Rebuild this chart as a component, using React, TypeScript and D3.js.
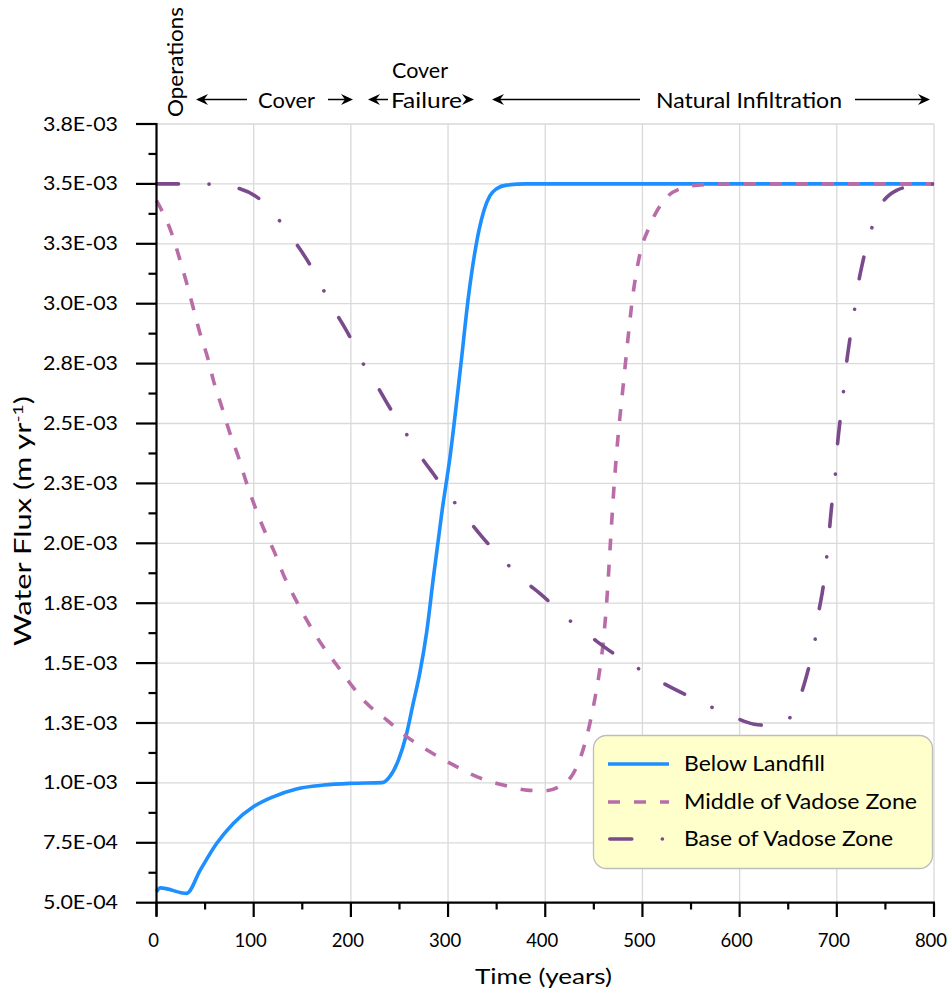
import React from "react";
import * as d3 from "d3";

// ---- data (time in years, water flux in m/yr) ----
const blueYears = [0, 4, 31, 45, 62, 79, 100, 120, 144, 172, 199, 232, 240, 249, 257, 264, 271, 278, 285, 294, 302, 313, 321, 327, 332, 337, 343, 350, 360, 380, 800];
const belowLandfill = [5.46e-4, 5.62e-4, 5.39e-4, 6.36e-4, 7.48e-4, 8.31e-4, 9.01e-4, 9.42e-4, 9.75e-4, 9.91e-4, 9.98e-4, 1.001e-3, 1.026e-3, 1.096e-3, 1.2e-3, 1.33e-3, 1.46e-3, 1.63e-3, 1.86e-3, 2.14e-3, 2.36e-3, 2.74e-3, 3.03e-3, 3.2e-3, 3.31e-3, 3.39e-3, 3.45e-3, 3.48e-3, 3.495e-3, 3.5e-3, 3.5e-3];

const middleYears = [0, 15.6, 24.2, 31.1, 37.9, 44.8, 53.3, 58.4, 67.1, 75.6, 84.2, 92.8, 101.3, 111.6, 121.9, 132.2, 140.8, 154.5, 171.6, 185.4, 199.1, 216.2, 236.8, 257.4, 281.4, 305.4, 329.4, 356.8, 380.8, 399.7, 416.9, 428.9, 439, 446, 451, 456, 460, 464, 467, 471, 475, 480, 485, 490, 497, 507, 520, 539, 563, 600, 800];
const middleVadose = [3.43e-3, 3.294e-3, 3.182e-3, 3.085e-3, 2.981e-3, 2.876e-3, 2.765e-3, 2.682e-3, 2.57e-3, 2.459e-3, 2.361e-3, 2.25e-3, 2.153e-3, 2.048e-3, 1.958e-3, 1.854e-3, 1.784e-3, 1.68e-3, 1.568e-3, 1.492e-3, 1.416e-3, 1.332e-3, 1.263e-3, 1.193e-3, 1.13e-3, 1.075e-3, 1.026e-3, 9.91e-4, 9.7e-4, 9.67e-4, 9.91e-4, 1.04e-3, 1.14e-3, 1.25e-3, 1.35e-3, 1.47e-3, 1.6e-3, 1.8e-3, 2.0e-3, 2.25e-3, 2.45e-3, 2.65e-3, 2.85e-3, 3.03e-3, 3.2e-3, 3.32e-3, 3.42e-3, 3.48e-3, 3.497e-3, 3.5e-3, 3.5e-3];

const baseYears = [0, 25, 55, 84, 106, 126, 144, 157, 171, 186, 198, 211, 227, 239, 255, 271, 285, 303, 321, 335, 357, 378, 395, 426, 450, 474, 495, 521, 547, 569, 596, 615, 630, 645, 655, 663, 671, 677, 681, 686, 689, 692, 695, 698, 700, 703, 706, 709, 713, 717, 721, 727, 733, 742, 762, 780, 800];
const baseVadose = [3.5e-3, 3.5e-3, 3.499e-3, 3.482e-3, 3.437e-3, 3.349e-3, 3.249e-3, 3.169e-3, 3.063e-3, 2.953e-3, 2.869e-3, 2.762e-3, 2.657e-3, 2.573e-3, 2.47e-3, 2.367e-3, 2.289e-3, 2.19e-3, 2.097e-3, 2.027e-3, 1.93e-3, 1.845e-3, 1.789e-3, 1.675e-3, 1.6e-3, 1.53e-3, 1.479e-3, 1.417e-3, 1.363e-3, 1.32e-3, 1.271e-3, 1.245e-3, 1.24e-3, 1.255e-3, 1.29e-3, 1.368e-3, 1.479e-3, 1.58e-3, 1.703e-3, 1.819e-3, 1.92e-3, 2.039e-3, 2.167e-3, 2.257e-3, 2.379e-3, 2.5e-3, 2.6e-3, 2.719e-3, 2.84e-3, 2.94e-3, 3.056e-3, 3.18e-3, 3.273e-3, 3.386e-3, 3.474e-3, 3.492e-3, 3.5e-3];

const yTickValues = [5.0e-4, 7.5e-4, 1.0e-3, 1.25e-3, 1.5e-3, 1.75e-3, 2.0e-3, 2.25e-3, 2.5e-3, 2.75e-3, 3.0e-3, 3.25e-3, 3.5e-3, 3.75e-3];
const yTickLabels = ["5.0E-04", "7.5E-04", "1.0E-03", "1.3E-03", "1.5E-03", "1.8E-03", "2.0E-03", "2.3E-03", "2.5E-03", "2.8E-03", "3.0E-03", "3.3E-03", "3.5E-03", "3.8E-03"];
const xTickValues = [0, 100, 200, 300, 400, 500, 600, 700, 800];
const xTickLabels = ["0", "100", "200", "300", "400", "500", "600", "700", "800"];

const seriesNames = ["Below Landfill", "Middle of Vadose Zone", "Base of Vadose Zone"];

const FONT = "Lato, 'Noto Sans', sans-serif";
const BLUE = "#1E8FFF";
const PINK = "#B86DA8";
const PURPLE = "#7A4A8C";

const x = d3.scaleLinear().domain([0, 800]).range([156.5, 934]);
const y = d3.scaleLinear().domain([5.0e-4, 3.75e-3]).range([902.7, 124]);

function pathFor(xs: number[], vs: number[]) {
  const pts = xs.map((t, i) => [t, vs[i]] as [number, number]);
  return d3
    .line<[number, number]>()
    .x((d) => x(d[0]))
    .y((d) => y(d[1]))
    .curve(d3.curveMonotoneX)(pts) as string;
}

function ArrowHead({ x0, y0, dir }: { x0: number; y0: number; dir: 1 | -1 }) {
  const d = `M${x0},${y0} L${x0 - dir * 12},${y0 - 5.5} L${x0 - dir * 8},${y0} L${x0 - dir * 12},${y0 + 5.5} Z`;
  return <path d={d} fill="#000" />;
}

function Arrow({ from, to, yy }: { from: number; to: number; yy: number }) {
  const dir: 1 | -1 = to > from ? 1 : -1;
  return (
    <g>
      <line x1={from} x2={to - dir * 6} y1={yy} y2={yy} stroke="#000" strokeWidth={1.5} />
      <ArrowHead x0={to} y0={yy} dir={dir} />
    </g>
  );
}

function Label({ x0, y0, w, size, children, anchor = "start" }: any) {
  return (
    <text x={x0} y={y0} fontSize={size} textAnchor={anchor} textLength={w} lengthAdjust="spacingAndGlyphs" fill="#000">
      {children}
    </text>
  );
}

export default function App() {
  const yMinor = d3.range(yTickValues.length - 1).map((i) => (yTickValues[i] + yTickValues[i + 1]) / 2);
  const xMinor = d3.range(xTickValues.length - 1).map((i) => (xTickValues[i] + xTickValues[i + 1]) / 2);
  const arrowY = 99.5;

  return (
    <svg
      width={951}
      height={993}
      style={{ position: "absolute", left: 0, top: 0, background: "#fff" }}
      fontFamily={FONT}
    >
      <rect x={0} y={0} width={951} height={993} fill="#fff" />
      {/* grid */}
      {xTickValues.slice(1).map((t) => (
        <line key={"gx" + t} x1={x(t)} x2={x(t)} y1={y(3.75e-3)} y2={y(5e-4)} stroke="#D9D9D9" strokeWidth={1.3} />
      ))}
      {yTickValues.slice(1).map((v) => (
        <line key={"gy" + v} x1={x(0)} x2={x(800)} y1={y(v)} y2={y(v)} stroke="#D9D9D9" strokeWidth={1.3} />
      ))}

      {/* series */}
      <path d={pathFor(blueYears, belowLandfill)} fill="none" stroke={BLUE} strokeWidth={3.6} strokeLinejoin="round" />
      <path d={pathFor(middleYears, middleVadose)} fill="none" stroke={PINK} strokeWidth={3.6} strokeDasharray="12 14" />
      <path
        d={pathFor(baseYears, baseVadose)}
        fill="none"
        stroke={PURPLE}
        strokeWidth={3.6}
        strokeLinecap="round"
        strokeDasharray="22 30.5 0.1 30.5"
      />

      {/* axes */}
      <line x1={x(0)} x2={x(0)} y1={y(3.75e-3) - 1} y2={916} stroke="#000" strokeWidth={2.2} />
      <line x1={x(0) - 1} x2={x(800) + 1} y1={y(5e-4)} y2={y(5e-4)} stroke="#000" strokeWidth={2.2} />
      {yTickValues.map((v, i) => (
        <g key={"yt" + v}>
          <line x1={136} x2={x(0)} y1={y(v)} y2={y(v)} stroke="#000" strokeWidth={2.2} />
          <Label x0={118} y0={y(v) + 6.5} w={75} size={18.5} anchor="end">
            {yTickLabels[i]}
          </Label>
        </g>
      ))}
      {yMinor.map((v) => (
        <line key={"ym" + v} x1={148.5} x2={x(0)} y1={y(v)} y2={y(v)} stroke="#000" strokeWidth={2.2} />
      ))}
      {xTickValues.map((t, i) => (
        <g key={"xt" + t}>
          <line x1={x(t)} x2={x(t)} y1={y(5e-4)} y2={917} stroke="#000" strokeWidth={2.2} />
          <text x={x(t) - 3} y={947} textAnchor="middle" fontSize={18.5} fill="#000">
            {xTickLabels[i]}
          </text>
        </g>
      ))}
      {xMinor.map((t) => (
        <line key={"xm" + t} x1={x(t)} x2={x(t)} y1={y(5e-4)} y2={909.5} stroke="#000" strokeWidth={2.2} />
      ))}

      {/* axis titles */}
      <Label x0={543.5} y0={984} w={137} size={22} anchor="middle">
        Time (years)
      </Label>
      <g transform="translate(31,521) rotate(-90)">
        <text x={0} y={0} textAnchor="middle" fontSize={22.5} textLength={250} lengthAdjust="spacingAndGlyphs" fill="#000">
          Water Flux (m yr
          <tspan dy={-8} fontSize={14}>-1</tspan>
          <tspan dy={8}>)</tspan>
        </text>
      </g>

      {/* phase annotations */}
      <g transform="translate(183,62) rotate(-90)">
        <Label x0={0} y0={0} w={110} size={20.5} anchor="middle">Operations</Label>
      </g>
      <Arrow from={247} to={196} yy={arrowY} />
      <Label x0={258} y0={108} w={57} size={20.5}>Cover</Label>
      <Arrow from={328} to={353} yy={arrowY} />
      <Arrow from={388} to={368} yy={arrowY} />
      <Label x0={392} y0={78} w={56} size={20.5}>Cover</Label>
      <Label x0={391} y0={108} w={71} size={20.5}>Failure</Label>
      <ArrowHead x0={474} y0={arrowY} dir={1} />
      <Arrow from={640} to={492} yy={arrowY} />
      <Label x0={656} y0={108} w={186} size={20.5}>Natural Infiltration</Label>
      <Arrow from={855} to={930} yy={arrowY} />

      {/* legend */}
      <rect x={593.5} y={735.5} width={339} height={133} rx={13} ry={13} fill="#FFFFCC" stroke="#BDBDBD" strokeWidth={1.3} />
      <line x1={608} x2={669} y1={764} y2={764} stroke={BLUE} strokeWidth={3.6} />
      <line x1={608} x2={669} y1={802} y2={802} stroke={PINK} strokeWidth={3.6} strokeDasharray="12 14" />
      <line x1={609.8} x2={669} y1={839} y2={839} stroke={PURPLE} strokeWidth={3.6} strokeLinecap="round" strokeDasharray="22 30.5 0.1 30.5" />
      {seriesNames.map((n, i) => (
        <Label key={n} x0={684} y0={[771, 809, 846][i]} w={[141, 233, 209][i]} size={21}>
          {n}
        </Label>
      ))}
    </svg>
  );
}
